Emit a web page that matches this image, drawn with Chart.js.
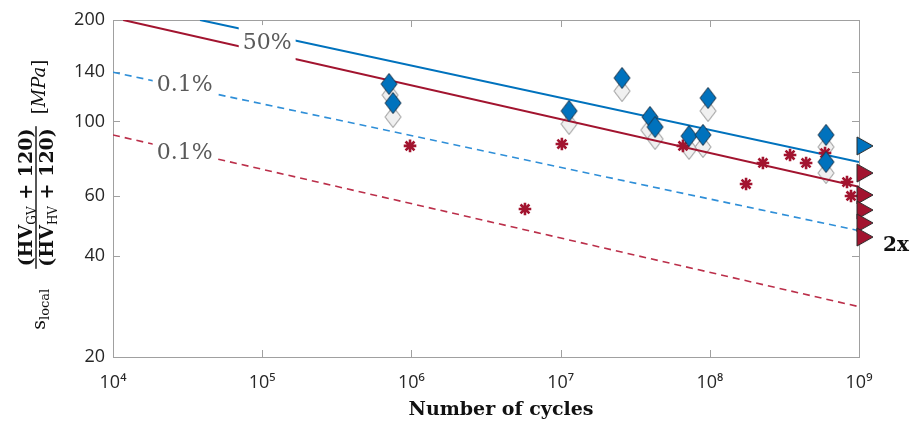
<!DOCTYPE html>
<html>
<head>
<meta charset="utf-8">
<script src="https://cdn.jsdelivr.net/npm/chart.js@4"></script>
<style>
html, body { margin: 0; padding: 0; background: #fff; }
#wrap { width: 912px; height: 421px; position: relative; }
</style>
</head>
<body>
<div id="wrap"><canvas id="chart"></canvas></div>
<script>
'use strict';

// axis ticks
const xTicks = [1e4, 1e5, 1e6, 1e7, 1e8, 1e9];
const yTicks = [20, 40, 60, 100, 140, 200];

// S-N curves (straight in log-log, given by their end points)
const blue50Cycles = [3.83e4, 1e9];
const blue50Stress = [200, 75.8];
const red50Cycles = [1.17e4, 1e9];
const red50Stress = [200, 64];
const blue01Cycles = [1e4, 1e9];
const blue01Stress = [140, 47.4];
const red01Cycles = [1e4, 1e9];
const red01Stress = [91.2, 28.2];

// blue specimens, corrected (filled) and uncorrected (grey)
const blueCycles = [7.08e5, 7.53e5, 1.14e7, 2.58e7, 3.97e7, 4.30e7, 7.26e7, 9.0e7, 9.73e7, 6.01e8, 6.01e8];
const blueStress = [129.2, 113.4, 107.4, 134.6, 103.1, 96.3, 90.5, 91.2, 117.4, 91.2, 75.8];
const greyCycles = [7.2e5, 7.53e5, 1.14e7, 2.58e7, 3.9e7, 4.30e7, 7.26e7, 9.0e7, 9.73e7, 6.01e8, 6.01e8];
const greyStress = [119.8, 103.1, 98.3, 123.1, 94.3, 88.7, 82.9, 84.0, 107.4, 84.0, 70.3];

// red specimens
const redCycles = [9.79e5, 1.02e7, 5.77e6, 6.61e7, 1.75e8, 2.27e8, 3.45e8, 4.42e8, 5.92e8, 8.31e8, 8.84e8];
const redStress = [84.6, 85.7, 55.0, 84.6, 65.2, 75.3, 79.5, 75.3, 80.6, 66.1, 60.1];

// run-outs at 1e9 cycles
const blueRunoutCycles = [1e9];
const blueRunoutStress = [84.6];
const redRunoutCycles = [1e9, 1e9, 1e9, 1e9, 1e9];
const redRunoutStress = [70.3, 60.5, 54.6, 50.0, 45.4];

// curve labels
const labelTexts = ['50%', '0.1%', '0.1%'];
const labelCycles = [1.08e5, 3.02e4, 3.02e4];
const labelStress = [172, 129.2, 81.2];

const BLUE = '#0072BD';
const RED = '#A2142F';
const AXIS = '#a0a0a0';
const SERIF = '"DejaVu Serif", serif';

function toPoints(xs, ys) {
	return xs.map((x, i) => ({ x: x, y: ys[i] }));
}

function makeDiamond(fill, stroke, w, h) {
	const c = document.createElement('canvas');
	c.width = w + 2;
	c.height = h + 2;
	const g = c.getContext('2d');
	const cx = c.width / 2, cy = c.height / 2;
	g.beginPath();
	g.moveTo(cx, cy - h / 2);
	g.lineTo(cx + w / 2, cy);
	g.lineTo(cx, cy + h / 2);
	g.lineTo(cx - w / 2, cy);
	g.closePath();
	g.fillStyle = fill;
	g.fill();
	g.lineWidth = 1;
	g.strokeStyle = stroke;
	g.stroke();
	return c;
}

// triangle whose left edge sits on the point, pointing right
function makeRunout(fill, stroke) {
	const c = document.createElement('canvas');
	c.width = 34;
	c.height = 22;
	const g = c.getContext('2d');
	g.beginPath();
	g.moveTo(15, 2);
	g.lineTo(31, 11);
	g.lineTo(15, 20);
	g.closePath();
	g.fillStyle = fill;
	g.fill();
	g.lineWidth = 1;
	g.strokeStyle = stroke;
	g.stroke();
	return c;
}

const SUP = { '4': '\u2074', '5': '\u2075', '6': '\u2076', '7': '\u2077', '8': '\u2078', '9': '\u2079' };

function xTickLabel(v) {
	const e = String(Math.round(Math.log10(v)));
	return '10' + (SUP[e] || e);
}

// frame with inward ticks, like the original axes box
const framePlugin = {
	id: 'frame',
	beforeDatasetsDraw(chart) {
		const { ctx, chartArea: a, scales: { x, y } } = chart;
		ctx.save();
		ctx.strokeStyle = AXIS;
		ctx.lineWidth = 1;
		ctx.strokeRect(a.left + 0.5, a.top + 0.5, a.right - a.left, a.bottom - a.top);
		ctx.beginPath();
		for (const v of xTicks.slice(1, -1)) {
			const px = Math.round(x.getPixelForValue(v)) + 0.5;
			ctx.moveTo(px, a.bottom);
			ctx.lineTo(px, a.bottom - 7);
			ctx.moveTo(px, a.top);
			ctx.lineTo(px, a.top + 7);
		}
		for (const v of yTicks.slice(1, -1)) {
			const py = Math.round(y.getPixelForValue(v)) + 0.5;
			ctx.moveTo(a.left, py);
			ctx.lineTo(a.left + 7, py);
			ctx.moveTo(a.right, py);
			ctx.lineTo(a.right - 7, py);
		}
		ctx.stroke();
		ctx.restore();
	}
};

// contour style labels on the curves, plus the "2x" note
const labelPlugin = {
	id: 'curveLabels',
	afterDatasetsDraw(chart) {
		const { ctx, chartArea: a, scales: { x, y } } = chart;
		ctx.save();
		ctx.font = '22px ' + SERIF;
		ctx.textAlign = 'center';
		ctx.textBaseline = 'middle';
		labelTexts.forEach((t, i) => {
			const px = x.getPixelForValue(labelCycles[i]);
			const py = y.getPixelForValue(labelStress[i]);
			const w = ctx.measureText(t).width + 8;
			const h = i === 0 ? 36 : 26;
			ctx.fillStyle = '#fff';
			ctx.fillRect(px - w / 2, py - h / 2 + (i === 0 ? 1 : 0), w, h);
			ctx.fillStyle = '#5a5a5a';
			ctx.fillText(t, px, py + 1);
		});
		ctx.fillStyle = '#111';
		ctx.font = 'bold 20px ' + SERIF;
		ctx.textAlign = 'left';
		ctx.textBaseline = 'alphabetic';
		const last = redRunoutStress[redRunoutStress.length - 1];
		ctx.fillText('2x', a.right + 24, y.getPixelForValue(last) + 14);
		ctx.restore();
	}
};

function drawRuns(ctx, runs, u, v) {
	for (const r of runs) {
		ctx.font = r[1];
		ctx.fillText(r[0], u, v + r[2]);
		u += ctx.measureText(r[0]).width;
	}
}

function runsWidth(ctx, runs) {
	let w = 0;
	for (const r of runs) {
		ctx.font = r[1];
		w += ctx.measureText(r[0]).width;
	}
	return w;
}

// axis titles (y title is a formula, drawn as rotated text runs)
const titlePlugin = {
	id: 'titles',
	afterDraw(chart) {
		const { ctx, chartArea: a } = chart;
		ctx.save();
		ctx.fillStyle = '#111';
		ctx.textBaseline = 'alphabetic';
		ctx.font = 'bold 19px ' + SERIF;
		ctx.textAlign = 'center';
		ctx.fillText('Number of cycles', 501, 415);

		ctx.textAlign = 'left';
		ctx.translate(36, (a.top + a.bottom) / 2 + 9);
		ctx.rotate(-Math.PI / 2);
		const B = 'bold 19px ' + SERIF, S = '12px ' + SERIF, R = '19px ' + SERIF;
		const num = [['(HV', B, 0], ['GV', S, 4], [' + 120)', B, 0]];
		const den = [['(HV', B, 0], ['HV', S, 4], [' + 120)', B, 0]];
		const sl = [['s', R, 0], ['local', '13px ' + SERIF, 4]];
		const mpa = [['[', '18px ' + SERIF, 0], ['MPa', 'italic 18px ' + SERIF, 0], [']', '18px ' + SERIF, 0]];
		const nw = runsWidth(ctx, num), dw = runsWidth(ctx, den);
		const fw = Math.max(nw, dw) + 4;
		drawRuns(ctx, num, -nw / 2, -4);
		drawRuns(ctx, den, -dw / 2, 17);
		ctx.fillRect(-fw / 2, -0.7, fw, 1.4);
		const sw = runsWidth(ctx, sl);
		drawRuns(ctx, sl, -fw / 2 - 20 - sw, 9);
		drawRuns(ctx, mpa, fw / 2 + 12, 9);
		ctx.restore();
	}
};

function curve(xs, ys, color, width, dash) {
	return {
		data: toPoints(xs, ys),
		showLine: true,
		borderColor: color,
		borderWidth: width,
		borderDash: dash,
		pointRadius: 0,
		fill: false,
		order: 4
	};
}

const datasets = [
	{
		data: toPoints(greyCycles, greyStress),
		pointStyle: makeDiamond('#f0f0f0', '#8a8a8a', 16, 21),
		pointRadius: 9,
		order: 5
	},
	curve(blue50Cycles, blue50Stress, BLUE, 2, []),
	curve(red50Cycles, red50Stress, RED, 2, []),
	curve(blue01Cycles, blue01Stress, '#2f8fd8', 1.6, [7, 5]),
	curve(red01Cycles, red01Stress, '#bb2f4a', 1.6, [7, 5]),
	{
		data: toPoints(redCycles, redStress),
		pointStyle: 'star',
		pointRadius: 6.3,
		borderColor: RED,
		pointBorderColor: RED,
		pointBorderWidth: 2.6,
		order: 3
	},
	{
		data: toPoints(blueCycles, blueStress),
		pointStyle: makeDiamond(BLUE, '#1d3347', 16, 21),
		pointRadius: 9,
		order: 2
	},
	{
		data: toPoints(blueRunoutCycles, blueRunoutStress),
		pointStyle: makeRunout(BLUE, '#2a2a2a'),
		pointRadius: 9,
		clip: false,
		order: 1
	},
	{
		data: toPoints(redRunoutCycles, redRunoutStress),
		pointStyle: makeRunout(RED, '#2a2a2a'),
		pointRadius: 9,
		clip: false,
		order: 1
	}
];

new Chart(document.getElementById('chart'), {
	type: 'scatter',
	data: { datasets: datasets },
	options: {
		responsive: true,
		maintainAspectRatio: false,
		animation: false,
		events: [],
		layout: { padding: { top: 20, right: 53, left: 0, bottom: 0 } },
		plugins: {
			legend: { display: false },
			tooltip: { enabled: false }
		},
		scales: {
			x: {
				type: 'logarithmic',
				min: 1e4,
				max: 1e9,
				grid: { display: false, drawTicks: false },
				border: { display: false },
				ticks: {
					padding: 15,
					color: '#262626',
					font: { family: 'Open Sans', size: 18 },
					maxRotation: 0,
					autoSkip: false,
					callback: v => xTickLabel(v)
				},
				afterBuildTicks: axis => { axis.ticks = xTicks.map(v => ({ value: v })); },
				afterFit: axis => { axis.height = 64; }
			},
			y: {
				type: 'logarithmic',
				min: 20,
				max: 200,
				grid: { display: false, drawTicks: false },
				border: { display: false },
				ticks: {
					padding: 8,
					color: '#262626',
					font: { family: 'Open Sans', size: 18 },
					autoSkip: false,
					callback: v => String(v)
				},
				afterBuildTicks: axis => { axis.ticks = yTicks.map(v => ({ value: v })); },
				afterFit: axis => { axis.width = 113; }
			}
		}
	},
	plugins: [framePlugin, labelPlugin, titlePlugin]
});
</script>
</body>
</html>
